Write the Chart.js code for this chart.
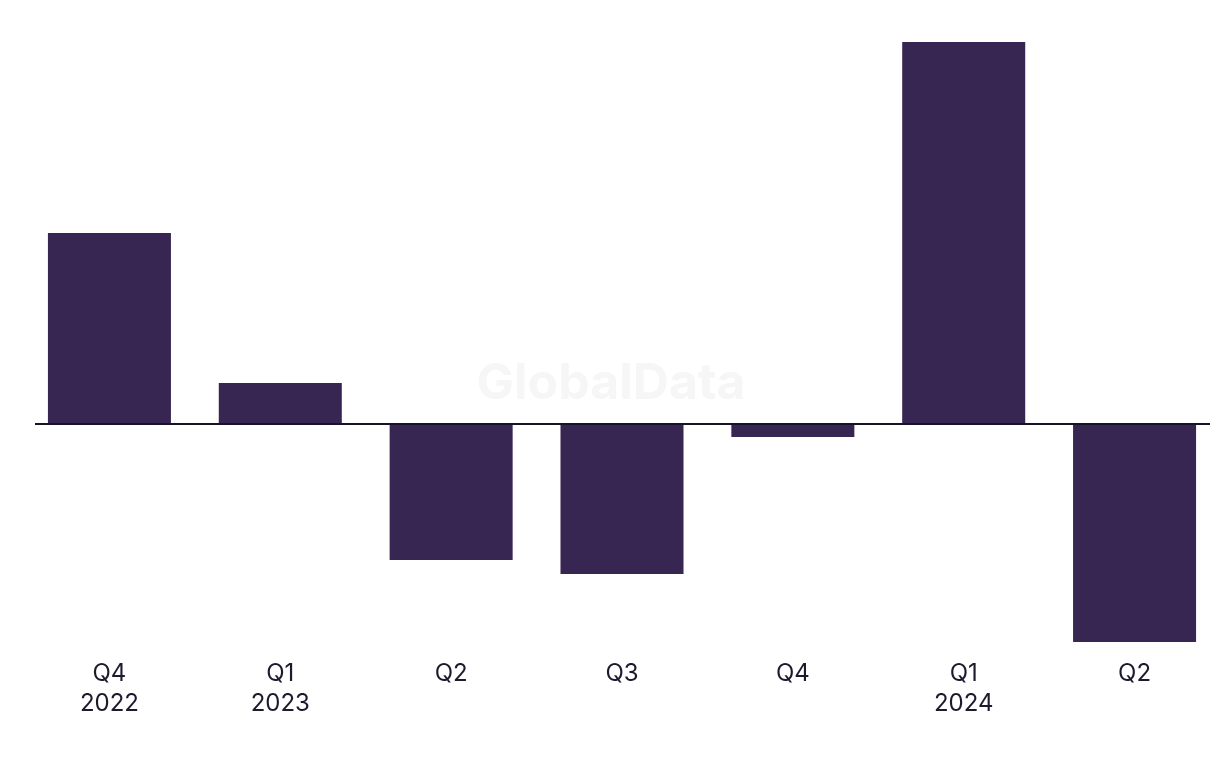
<!DOCTYPE html>
<html>
<head>
<meta charset="utf-8">
<script src="https://cdn.jsdelivr.net/npm/chart.js@4.4.1/dist/chart.umd.min.js"></script>
<style>
  html, body { margin: 0; padding: 0; background: #fff; }
  #wrap { width: 1220px; height: 768px; }
</style>
</head>
<body>
<div id="wrap"><canvas id="myChart"></canvas></div>
<script>
// quarters (two-line labels) and the change values
var quarters = [['Q4', '2022'], ['Q1', '2023'], ['Q2'], ['Q3'], ['Q4'], ['Q1', '2024'], ['Q2']];
var values = [19.1, 4.1, -13.6, -15.0, -1.3, 38.2, -21.8];

var zeroLine = {
    id: 'zeroLine',
    beforeDraw: function(chart) {
        var c = chart.ctx;
        // faint watermark
        c.save();
        c.font = 'bold 50px Inter, "Liberation Sans", sans-serif';
        c.fillStyle = '#f6f6f6';
        c.textAlign = 'center';
        c.textBaseline = 'middle';
        c.fillText('GlobalData', 611, 384);
        c.restore();
    },
    afterDatasetsDraw: function(chart) {
        var c = chart.ctx;
        var y = chart.scales.y.getPixelForValue(0);
        c.save();
        c.strokeStyle = '#16132b';
        c.lineWidth = 2;
        c.beginPath();
        c.moveTo(35, y);
        c.lineTo(1210, y);
        c.stroke();
        c.restore();
    }
};

var ctx = document.getElementById('myChart').getContext('2d');
var chart = new Chart(ctx, {
    type: 'bar',
    data: {
        labels: quarters,
        datasets: [{
            data: values,
            backgroundColor: '#372552',
            borderWidth: 0,
            barPercentage: 0.72,
            categoryPercentage: 1
        }]
    },
    options: {
        responsive: true,
        maintainAspectRatio: false,
        animation: false,
        layout: { padding: { top: 42, bottom: 32, left: 24, right: -2 } },
        plugins: {
            legend: { display: false },
            tooltip: { enabled: false }
        },
        scales: {
            x: {
                grid: { display: false, drawTicks: false },
                border: { display: false },
                ticks: {
                    padding: 17,
                    color: '#1c1b2e',
                    maxRotation: 0,
                    font: { family: 'Inter, "Liberation Sans", sans-serif', size: 24, lineHeight: 1.25 }
                }
            },
            y: {
                display: false,
                min: -21.8,
                max: 38.2
            }
        }
    },
    plugins: [zeroLine]
});
</script>
</body>
</html>
